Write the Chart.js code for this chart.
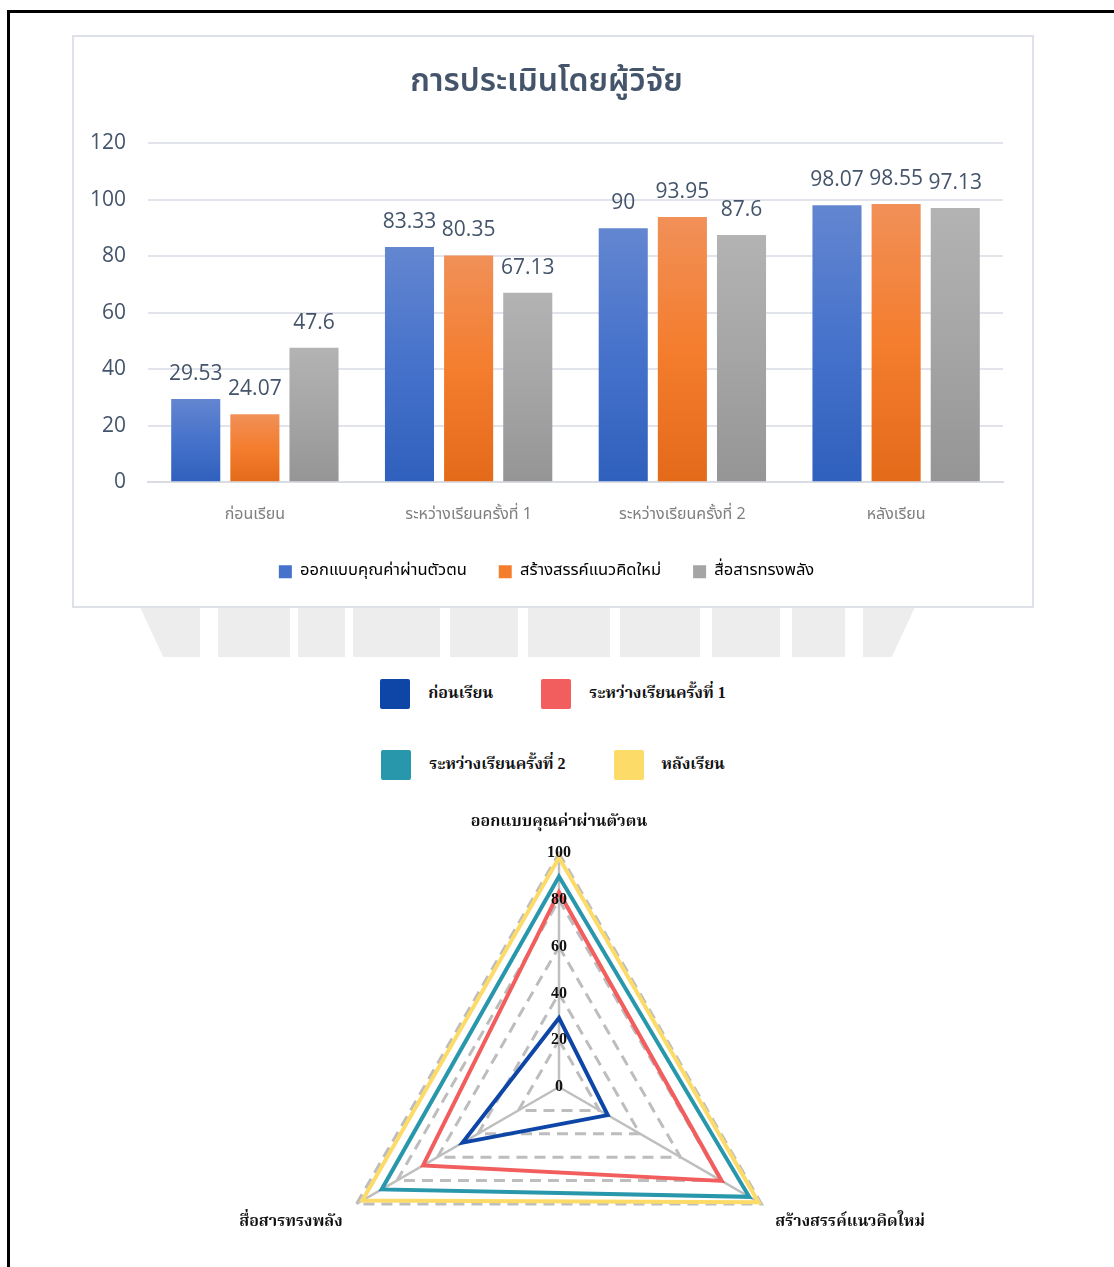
<!DOCTYPE html>
<html>
<head>
<meta charset="utf-8">
<script src="https://cdn.jsdelivr.net/npm/chart.js@4.4.1/dist/chart.umd.min.js"></script>
<style>
  html, body { margin: 0; padding: 0; background: #fff; }
  body { width: 1114px; height: 1267px; position: relative; overflow: hidden; }
  #frame { position: absolute; left: 7px; top: 10px; width: 1200px; height: 1400px;
           border-top: 3px solid #000; border-left: 3px solid #000; box-sizing: border-box; }
  #wm { position: absolute; left: 140px; top: 607px; width: 775px; height: 50px; background: #EDEDED;
        clip-path: polygon(0 0, 100% 0, 97% 100%, 3% 100%); }
  .wgap { position: absolute; top: 0; height: 50px; background: #fff; }
  #barBox { position: absolute; left: 72px; top: 35px; width: 962px; height: 573px;
            border: 2px solid #DEE2E8; box-sizing: border-box; background: #fff; }
  #barCanvas { position: absolute; left: 0; top: 0; }
  #radarLegend { position: absolute; left: 0; top: 672px; width: 1106px;
                 font-family: "Liberation Serif", "Noto Serif Thai", serif; font-weight: bold;
                 font-size: 16px; color: #111; }
  .lrow { display: flex; justify-content: center; height: 44px; margin-bottom: 27px; align-items: center; }
  .litem { display: flex; align-items: center; margin: 0 24px; }
  .lbox { width: 30px; height: 30px; border-radius: 2px; margin-right: 18px; }
  #radarWrap { position: absolute; left: 139px; top: 797px; width: 840px; height: 551px; }
</style>
</head>
<body>
<div id="frame"></div>
<div id="wm">
  <div class="wgap" style="left:60px;width:18px"></div>
  <div class="wgap" style="left:150px;width:8px"></div>
  <div class="wgap" style="left:205px;width:8px"></div>
  <div class="wgap" style="left:300px;width:10px"></div>
  <div class="wgap" style="left:378px;width:10px"></div>
  <div class="wgap" style="left:470px;width:10px"></div>
  <div class="wgap" style="left:560px;width:12px"></div>
  <div class="wgap" style="left:640px;width:12px"></div>
  <div class="wgap" style="left:705px;width:18px"></div>
</div>
<div id="barBox"><canvas id="barCanvas" width="958" height="569"></canvas></div>
<div id="radarLegend"></div>
<div id="radarWrap"><canvas id="radarCanvas" width="840" height="551"></canvas></div>
<script>
// ---------- data ----------
const barTitle = "การประเมินโดยผู้วิจัย";
const phases = ["ก่อนเรียน", "ระหว่างเรียนครั้งที่ 1", "ระหว่างเรียนครั้งที่ 2", "หลังเรียน"];
const skills = ["ออกแบบคุณค่าผ่านตัวตน", "สร้างสรรค์แนวคิดใหม่", "สื่อสารทรงพลัง"];
const designValues = [29.53, 83.33, 90, 98.07];
const creativeValues = [24.07, 80.35, 93.95, 98.55];
const commValues = [47.6, 67.13, 87.6, 97.13];
const yTicks = [0, 20, 40, 60, 80, 100, 120];
const radarTicks = [0, 20, 40, 60, 80, 100];

// radar: one series per phase, values per skill (same numbers as the bar chart)
const beforeValues = [29.53, 24.07, 47.6];
const during1Values = [83.33, 80.35, 67.13];
const during2Values = [90, 93.95, 87.6];
const afterValues = [98.07, 98.55, 97.13];

// ---------- bar chart ----------
const barGrad = {
  blue: ["#6386D0", "#4672CB", "#2F60BD"],
  orange: ["#F19058", "#F47D2E", "#E36A19"],
  gray: ["#B3B3B3", "#A5A5A5", "#959595"]
};
function gradFor(stops) {
  return function (ctx) {
    const chart = ctx.chart;
    const y = chart.scales && chart.scales.y;
    if (!chart.chartArea || !y || ctx.raw === undefined) return stops[1];
    const top = y.getPixelForValue(ctx.raw);
    const base = y.getPixelForValue(0);
    if (!isFinite(top) || !isFinite(base) || Math.abs(base - top) < 1) return stops[1];
    const g = chart.ctx.createLinearGradient(0, top, 0, base);
    g.addColorStop(0, stops[0]);
    g.addColorStop(0.5, stops[1]);
    g.addColorStop(1, stops[2]);
    return g;
  };
}
const valueLabels = {
  id: "valueLabels",
  afterDatasetsDraw(chart) {
    const c = chart.ctx;
    c.save();
    c.font = '21px "Open Sans", "Liberation Sans", sans-serif';
    c.fillStyle = "#44546A";
    c.textAlign = "center";
    c.textBaseline = "middle";
    chart.data.datasets.forEach((ds, di) => {
      const meta = chart.getDatasetMeta(di);
      meta.data.forEach((el, i) => {
        c.fillText(String(ds.data[i]), el.x, el.y - 25);
      });
    });
    c.restore();
  }
};
const thaiSans = '"Noto Sans Thai", "Leelawadee UI", "Noto Sans", sans-serif';
new Chart(document.getElementById("barCanvas"), {
  type: "bar",
  data: {
    labels: phases,
    datasets: [
      { label: skills[0], data: designValues, backgroundColor: gradFor(barGrad.blue) },
      { label: skills[1], data: creativeValues, backgroundColor: gradFor(barGrad.orange) },
      { label: skills[2], data: commValues, backgroundColor: gradFor(barGrad.gray) }
    ]
  },
  options: {
    responsive: false,
    animation: false,
    events: [],
    categoryPercentage: 0.83,
    barPercentage: 0.83,
    layout: { padding: { left: 16, right: 29, top: 0, bottom: 16 } },
    plugins: {
      title: {
        display: true, text: barTitle, color: "#44546A",
        font: { family: thaiSans, size: 32, weight: "600" },
        padding: { top: 28, bottom: 40 }
      },
      legend: {
        position: "bottom",
        labels: {
          boxWidth: 13, boxHeight: 13, padding: 32, color: "#666666",
          font: { family: thaiSans, size: 16.5 },
          generateLabels(chart) {
            const cols = [barGrad.blue, barGrad.orange, barGrad.gray];
            return chart.data.datasets.map((ds, i) => ({
              text: ds.label, fillStyle: cols[i][1], strokeStyle: cols[i][1], lineWidth: 0, datasetIndex: i
            }));
          }
        }
      },
      tooltip: { enabled: false }
    },
    scales: {
      x: {
        afterFit(scale) { scale.height = scale.height - 18; },
        grid: { display: false, drawTicks: false },
        border: { display: true, color: "#D9DCE2", width: 2 },
        ticks: { color: "#7F7F7F", font: { family: thaiSans, size: 16 }, padding: 24 }
      },
      y: {
        min: 0, max: 120,
        afterBuildTicks(scale) { scale.ticks = yTicks.map(v => ({ value: v })); },
        afterFit(scale) { scale.width = 58; },
        grid: { color: "#E1E4EA", lineWidth: 2, drawTicks: false },
        border: { display: false },
        ticks: { color: "#44546A", font: { family: '"Open Sans", "Liberation Sans", sans-serif', size: 21 }, padding: 22 }
      }
    }
  },
  plugins: [valueLabels]
});

// ---------- radar chart ----------
const radarColors = ["#0E46A8", "#F25D5D", "#2897AB", "#FCDB68"];
const radarSeries = [beforeValues, during1Values, during2Values, afterValues];

const legendEl = document.getElementById("radarLegend");
for (let r = 0; r < 2; r++) {
  const row = document.createElement("div");
  row.className = "lrow";
  for (let k = 0; k < 2; k++) {
    const i = r * 2 + k;
    const item = document.createElement("div");
    item.className = "litem";
    const box = document.createElement("div");
    box.className = "lbox";
    box.style.background = radarColors[i];
    const txt = document.createElement("span");
    txt.textContent = phases[i];
    item.appendChild(box); item.appendChild(txt);
    row.appendChild(item);
  }
  legendEl.appendChild(row);
}

new Chart(document.getElementById("radarCanvas"), {
  type: "radar",
  data: {
    labels: skills,
    datasets: radarSeries.map((vals, i) => ({
      label: phases[i], data: vals, borderColor: radarColors[i], backgroundColor: "transparent",
      borderWidth: 4, pointRadius: 0, fill: false, tension: 0
    })).reverse()
  },
  options: {
    responsive: false,
    animation: false,
    events: [],
    plugins: { legend: { display: false }, tooltip: { enabled: false } },
    scales: {
      r: {
        min: -0.001, max: 100,
        afterBuildTicks(scale) { scale.ticks = radarTicks.map(v => ({ value: v })); },
        grid: { circular: false, color: "#BDBDBD", lineWidth: 3 },
        border: { dash: [11, 7] },
        angleLines: { color: "#BFBFBF", lineWidth: 2.5 },
        ticks: {
          showLabelBackdrop: false, color: "#111",
          font: { family: '"Liberation Serif", serif', size: 16, weight: "bold" }, z: 1
        },
        pointLabels: {
          color: "#111",
          padding: (ctx) => (ctx.index === 0 ? 12 : 6),
          font: { family: '"Liberation Serif", "Noto Serif Thai", serif', size: 16, weight: "bold" }
        }
      }
    }
  }
});
</script>
</body>
</html>
